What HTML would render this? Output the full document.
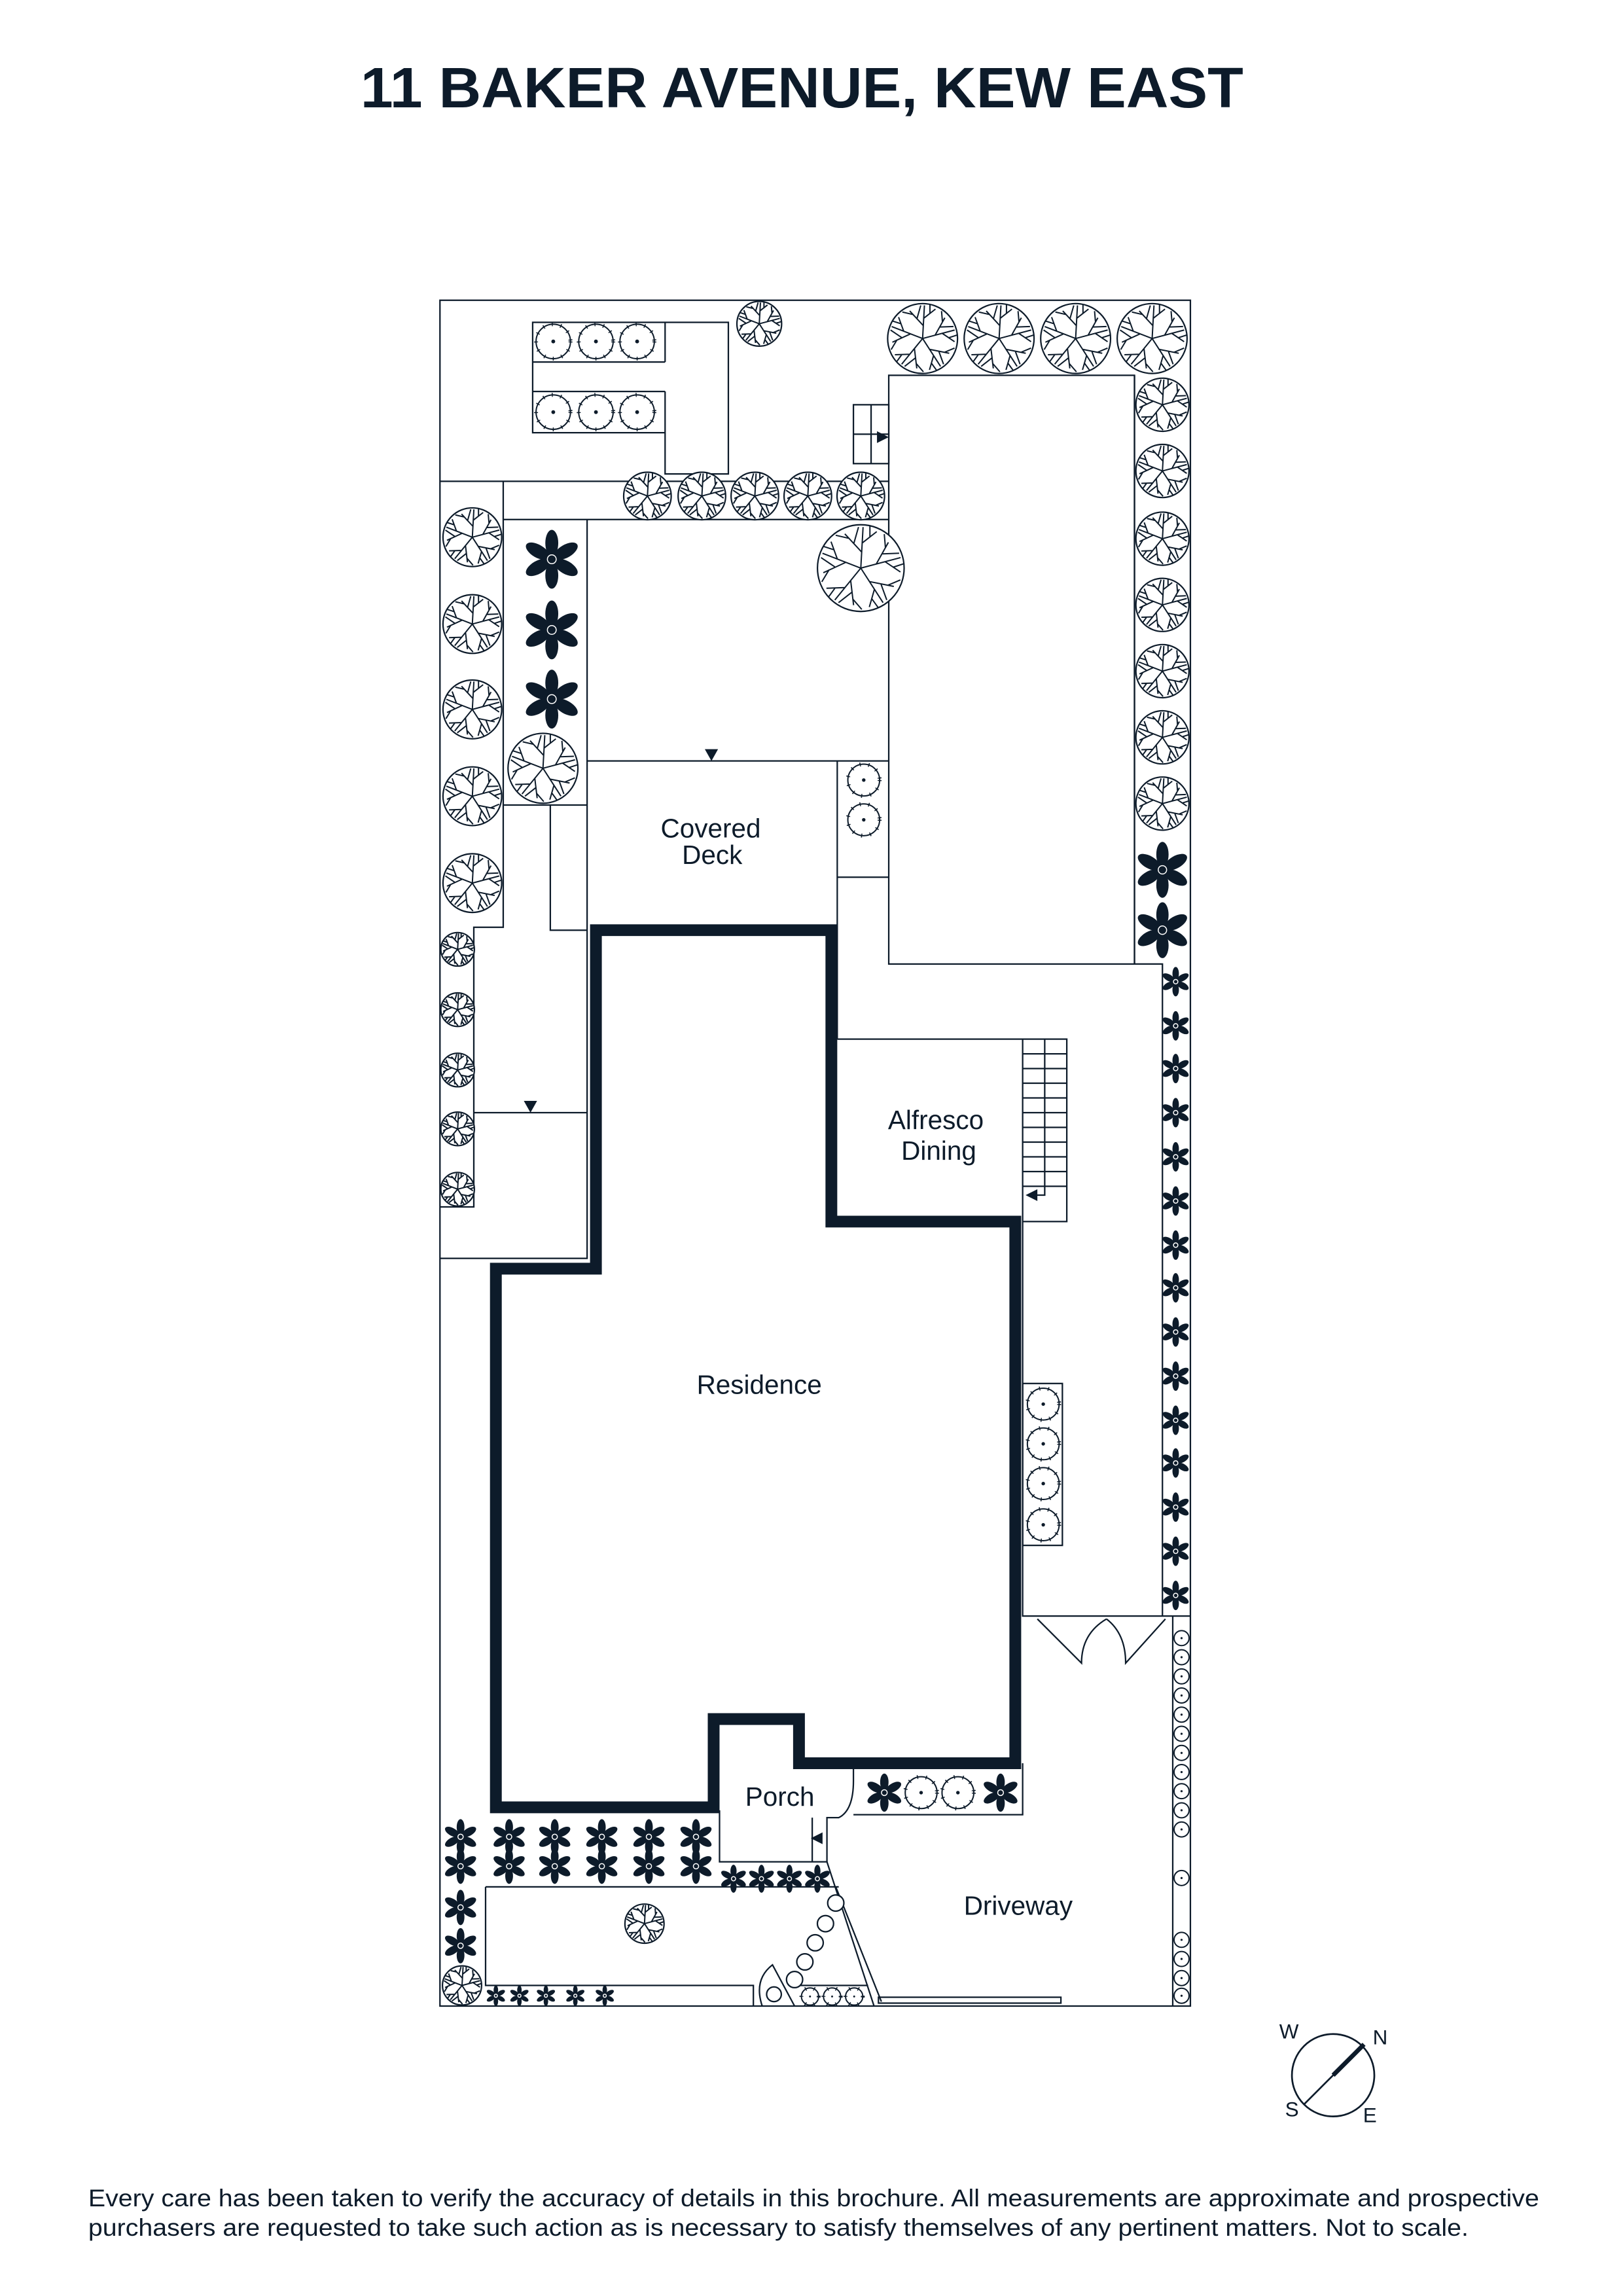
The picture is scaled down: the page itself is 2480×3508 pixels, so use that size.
<!DOCTYPE html>
<html><head><meta charset="utf-8"><style>
html,body{margin:0;padding:0;background:#fff}
svg{display:block}
text{font-family:"Liberation Sans",sans-serif;fill:#0d1b2a}
</style></head><body>
<svg width="2480" height="3508" viewBox="0 0 1103 1560" preserveAspectRatio="none" xmlns="http://www.w3.org/2000/svg">
<defs>
<symbol id="tree" viewBox="-1 -1 2 2" overflow="visible">
<g fill="none" stroke="#0d1b2a" stroke-width="2" vector-effect="non-scaling-stroke">
<circle r="0.95" fill="#fff" stroke-width="2.2" vector-effect="non-scaling-stroke"/>
<g id="br"><path vector-effect="non-scaling-stroke" d="M0 0 L0.05 -0.9 M0.02 -0.35 L-0.35 -0.75 M0.03 -0.55 L0.35 -0.8 M-0.15 -0.55 L-0.05 -0.9 M0.2 -0.68 L0.2 -0.92 M-0.25 -0.65 L-0.55 -0.72"/></g>
<use href="#br" transform="rotate(72)"/><use href="#br" transform="rotate(144)"/><use href="#br" transform="rotate(216)"/><use href="#br" transform="rotate(288)"/>
</g>
</symbol>
<symbol id="flower" viewBox="-1 -1 2 2" overflow="visible">
<g fill="#0d1b2a">
<ellipse cx="0" cy="-0.55" rx="0.22" ry="0.45"/>
<ellipse cx="0" cy="-0.55" rx="0.22" ry="0.45" transform="rotate(60)"/>
<ellipse cx="0" cy="-0.55" rx="0.22" ry="0.45" transform="rotate(120)"/>
<ellipse cx="0" cy="-0.55" rx="0.22" ry="0.45" transform="rotate(180)"/>
<ellipse cx="0" cy="-0.55" rx="0.22" ry="0.45" transform="rotate(240)"/>
<ellipse cx="0" cy="-0.55" rx="0.22" ry="0.45" transform="rotate(300)"/>
<circle r="0.32"/>
</g>
<circle r="0.15" fill="none" stroke="#fff" stroke-width="1.5" vector-effect="non-scaling-stroke"/>
</symbol>
<symbol id="shrub" viewBox="-1 -1 2 2" overflow="visible">
<circle r="0.9" fill="#fff" stroke="#0d1b2a" stroke-width="2" vector-effect="non-scaling-stroke"/>
<circle r="0.9" fill="none" stroke="#0d1b2a" stroke-width="6" stroke-dasharray="1.5 12" vector-effect="non-scaling-stroke"/>
<circle r="0.1" fill="#0d1b2a"/>
</symbol>
<symbol id="ring" viewBox="-1 -1 2 2" overflow="visible">
<circle r="0.85" fill="#fff" stroke="#0d1b2a" stroke-width="2" vector-effect="non-scaling-stroke"/>
<circle r="0.12" fill="#0d1b2a"/>
</symbol>
</defs>

<text x="545" y="73" font-size="39" font-weight="bold" text-anchor="middle" textLength="600" lengthAdjust="spacingAndGlyphs">11 BAKER AVENUE, KEW EAST</text>

<g fill="none" stroke="#0d1b2a" stroke-width="1">
<rect x="299" y="204" width="510" height="1159"/>
<!-- top planter -->
<path d="M362 219 H495 V322 H452 V294 H362 Z M362 246 H452 M362 266 H452 M452 219 V246 M452 266 V294"/>
<!-- paths -->
<path d="M299 327 H604 M342 353 H604 M342 327 V630 H322 V820 H299"/>
<path d="M399 353 V855 H299 M342 547 H399 M374 547 V632 H399 M322 756 H399"/>
<path d="M399 517 H604 M569 517 V706 M569 596 H604"/>
<rect x="604" y="255" width="167" height="400"/>
<path d="M771 655 H790 V1098 M771 255 V655"/>
<rect x="580" y="275" width="24" height="40"/>
<path d="M580 295 H604 M592 275 V315"/>
<!-- alfresco / stairs -->
<path d="M569 706 H725 V830 H695 V706"/>
<path d="M710 706 V812 H700 M695 716 H725 M695 726 H725 M695 736 H725 M695 746 H725 M695 756 H725 M695 766 H725 M695 776 H725 M695 786 H725 M695 796 H725 M695 806 H725"/>
<path d="M695 830 V1098 H809"/>
<rect x="695" y="940" width="27" height="110"/>
<!-- doors -->
<path d="M705 1100 L735 1130 Q735 1110 752 1100 M792 1100 L765 1130 Q765 1110 752 1100"/>
<path d="M797 1098 V1363"/>
<!-- porch & beds -->
<path d="M489 1230 V1265 H562 V1235 H570 Q580 1230 580 1210 V1198 M580 1233 H695 V1198"/>
<path d="M552 1235 V1265"/>
<path d="M562 1265 L594 1363 M568 1282 L599 1360"/>
<path d="M330 1282 H570 M330 1282 V1349 H512 V1363 M541 1349 H590"/>
<path d="M518 1363 Q512 1345 525 1335 L540 1363"/>
<rect x="597" y="1357" width="124" height="4"/>
</g>
<!-- residence thick wall -->
<path d="M405 632 H565 V830 H690 V1198 H543 V1168 H485 V1228 H337 V862 H405 Z" fill="none" stroke="#0d1b2a" stroke-width="8"/>
<!-- arrows -->
<g fill="#0d1b2a">
<path d="M479 509 H488 L483.5 517 Z"/>
<path d="M356 748 H365 L360.5 756 Z"/>
<path d="M596 293 L604 297 L596 301 Z"/>
<path d="M705 808 L697 812 L705 816 Z"/>
<path d="M559 1245 L551 1249 L559 1253 Z"/>
</g>

<!-- trees -->
<g>
<use href="#tree" x="500" y="204" width="32" height="32"/>
<use href="#tree" x="602" y="205" width="50" height="50"/>
<use href="#tree" x="654" y="205" width="50" height="50"/>
<use href="#tree" x="706" y="205" width="50" height="50"/>
<use href="#tree" x="758" y="205" width="50" height="50"/>
<use href="#tree" x="423" y="320" width="34" height="34"/>
<use href="#tree" x="460" y="320" width="34" height="34"/>
<use href="#tree" x="496" y="320" width="34" height="34"/>
<use href="#tree" x="532" y="320" width="34" height="34"/>
<use href="#tree" x="568" y="320" width="34" height="34"/>
<use href="#tree" x="554" y="355" width="62" height="62"/>
<use href="#tree" x="300" y="344" width="42" height="42"/>
<use href="#tree" x="300" y="403" width="42" height="42"/>
<use href="#tree" x="300" y="461" width="42" height="42"/>
<use href="#tree" x="300" y="520" width="42" height="42"/>
<use href="#tree" x="300" y="579" width="42" height="42"/>
<use href="#tree" x="344" y="497" width="50" height="50"/>
<use href="#tree" x="299" y="633" width="24" height="24"/>
<use href="#tree" x="299" y="674" width="24" height="24"/>
<use href="#tree" x="299" y="715" width="24" height="24"/>
<use href="#tree" x="299" y="755" width="24" height="24"/>
<use href="#tree" x="299" y="796" width="24" height="24"/>
<use href="#tree" x="771" y="256" width="38" height="38"/>
<use href="#tree" x="771" y="301" width="38" height="38"/>
<use href="#tree" x="771" y="347" width="38" height="38"/>
<use href="#tree" x="771" y="392" width="38" height="38"/>
<use href="#tree" x="771" y="437" width="38" height="38"/>
<use href="#tree" x="771" y="482" width="38" height="38"/>
<use href="#tree" x="771" y="527" width="38" height="38"/>
<use href="#tree" x="424" y="1293" width="28" height="28"/>
<use href="#tree" x="300" y="1335" width="28" height="28"/>
</g>
<!-- big flowers -->
<g>
<use href="#flower" x="355" y="360" width="40" height="40"/>
<use href="#flower" x="355" y="408" width="40" height="40"/>
<use href="#flower" x="355" y="455" width="40" height="40"/>
<use href="#flower" x="771" y="572" width="38" height="38"/>
<use href="#flower" x="771" y="613" width="38" height="38"/>
</g>
<!-- right flower strip -->
<g>
<use href="#flower" x="789" y="657" width="20" height="20"/>
<use href="#flower" x="789" y="687" width="20" height="20"/>
<use href="#flower" x="789" y="716" width="20" height="20"/>
<use href="#flower" x="789" y="746" width="20" height="20"/>
<use href="#flower" x="789" y="776" width="20" height="20"/>
<use href="#flower" x="789" y="806" width="20" height="20"/>
<use href="#flower" x="789" y="836" width="20" height="20"/>
<use href="#flower" x="789" y="865" width="20" height="20"/>
<use href="#flower" x="789" y="895" width="20" height="20"/>
<use href="#flower" x="789" y="925" width="20" height="20"/>
<use href="#flower" x="789" y="955" width="20" height="20"/>
<use href="#flower" x="789" y="984" width="20" height="20"/>
<use href="#flower" x="789" y="1014" width="20" height="20"/>
<use href="#flower" x="789" y="1044" width="20" height="20"/>
<use href="#flower" x="789" y="1074" width="20" height="20"/>
</g>
<!-- shrubs -->
<g>
<use href="#shrub" x="363" y="219" width="26" height="26"/>
<use href="#shrub" x="392" y="219" width="26" height="26"/>
<use href="#shrub" x="420" y="219" width="26" height="26"/>
<use href="#shrub" x="363" y="267" width="26" height="26"/>
<use href="#shrub" x="392" y="267" width="26" height="26"/>
<use href="#shrub" x="420" y="267" width="26" height="26"/>
<use href="#shrub" x="575" y="518" width="24" height="24"/>
<use href="#shrub" x="575" y="545" width="24" height="24"/>
<use href="#shrub" x="697" y="942" width="24" height="24"/>
<use href="#shrub" x="697" y="969" width="24" height="24"/>
<use href="#shrub" x="697" y="996" width="24" height="24"/>
<use href="#shrub" x="697" y="1024" width="24" height="24"/>
<use href="#shrub" x="614" y="1206" width="24" height="24"/>
<use href="#shrub" x="639" y="1206" width="24" height="24"/>
<use href="#shrub" x="544" y="1350" width="13" height="13"/>
<use href="#shrub" x="559" y="1350" width="13" height="13"/>
<use href="#shrub" x="574" y="1350" width="13" height="13"/>
</g>
<g>
<use href="#flower" x="588" y="1205" width="26" height="26"/>
<use href="#flower" x="667" y="1205" width="26" height="26"/>
</g>
<!-- right circle strip -->
<g>
<use href="#ring" x="797" y="1107" width="12" height="12"/>
<use href="#ring" x="797" y="1120" width="12" height="12"/>
<use href="#ring" x="797" y="1133" width="12" height="12"/>
<use href="#ring" x="797" y="1146" width="12" height="12"/>
<use href="#ring" x="797" y="1159" width="12" height="12"/>
<use href="#ring" x="797" y="1172" width="12" height="12"/>
<use href="#ring" x="797" y="1185" width="12" height="12"/>
<use href="#ring" x="797" y="1198" width="12" height="12"/>
<use href="#ring" x="797" y="1211" width="12" height="12"/>
<use href="#ring" x="797" y="1224" width="12" height="12"/>
<use href="#ring" x="797" y="1237" width="12" height="12"/>
<use href="#ring" x="797" y="1270" width="12" height="12"/>
<use href="#ring" x="797" y="1312" width="12" height="12"/>
<use href="#ring" x="797" y="1325" width="12" height="12"/>
<use href="#ring" x="797" y="1338" width="12" height="12"/>
<use href="#ring" x="797" y="1350" width="12" height="12"/>
</g>
<!-- stepping stones -->
<g fill="#fff" stroke="#0d1b2a" stroke-width="1">
<circle cx="568" cy="1293" r="5.5"/><circle cx="561" cy="1307" r="5.5"/><circle cx="554" cy="1320" r="5.5"/><circle cx="547" cy="1333" r="5.5"/><circle cx="540" cy="1345" r="5.5"/><circle cx="526" cy="1355" r="5"/>
</g>
<!-- bottom-left flowers -->
<g>
<use href="#flower" x="301" y="1236" width="24" height="24"/><use href="#flower" x="301" y="1256" width="24" height="24"/>
<use href="#flower" x="334" y="1236" width="24" height="24"/><use href="#flower" x="334" y="1256" width="24" height="24"/>
<use href="#flower" x="365" y="1236" width="24" height="24"/><use href="#flower" x="365" y="1256" width="24" height="24"/>
<use href="#flower" x="397" y="1236" width="24" height="24"/><use href="#flower" x="397" y="1256" width="24" height="24"/>
<use href="#flower" x="429" y="1236" width="24" height="24"/><use href="#flower" x="429" y="1256" width="24" height="24"/>
<use href="#flower" x="461" y="1236" width="24" height="24"/><use href="#flower" x="461" y="1256" width="24" height="24"/>
<use href="#flower" x="301" y="1284" width="24" height="24"/><use href="#flower" x="301" y="1310" width="24" height="24"/>
<use href="#flower" x="489" y="1267" width="19" height="19"/><use href="#flower" x="508" y="1267" width="19" height="19"/>
<use href="#flower" x="527" y="1267" width="19" height="19"/><use href="#flower" x="546" y="1267" width="19" height="19"/>
<use href="#flower" x="330" y="1349" width="14" height="14"/><use href="#flower" x="346" y="1349" width="14" height="14"/>
<use href="#flower" x="364" y="1349" width="14" height="14"/><use href="#flower" x="384" y="1349" width="14" height="14"/>
<use href="#flower" x="404" y="1349" width="14" height="14"/>
</g>

<!-- labels -->
<g font-size="18" text-anchor="middle">
<text x="483" y="569">Covered</text>
<text x="484" y="587">Deck</text>
<text x="636" y="767">Alfresco</text>
<text x="638" y="788">Dining</text>
<text x="516" y="947">Residence</text>
<text x="530" y="1227">Porch</text>
<text x="692" y="1301">Driveway</text>
</g>

<!-- compass -->
<circle cx="906" cy="1410" r="28" fill="none" stroke="#0d1b2a" stroke-width="1.2"/>
<line x1="886" y1="1430" x2="907" y2="1409" stroke="#0d1b2a" stroke-width="1.2"/>
<line x1="906" y1="1410" x2="927" y2="1389" stroke="#0d1b2a" stroke-width="3"/>
<g font-size="14" text-anchor="middle">
<text x="876" y="1385">W</text><text x="938" y="1389">N</text><text x="878" y="1438">S</text><text x="931" y="1442">E</text>
</g>

<g font-size="16.3">
<text x="60" y="1499" textLength="986" lengthAdjust="spacingAndGlyphs">Every care has been taken to verify the accuracy of details in this brochure. All measurements are approximate and prospective</text>
<text x="60" y="1519" textLength="938" lengthAdjust="spacingAndGlyphs">purchasers are requested to take such action as is necessary to satisfy themselves of any pertinent matters. Not to scale.</text>
</g>
</svg>
</body></html>
